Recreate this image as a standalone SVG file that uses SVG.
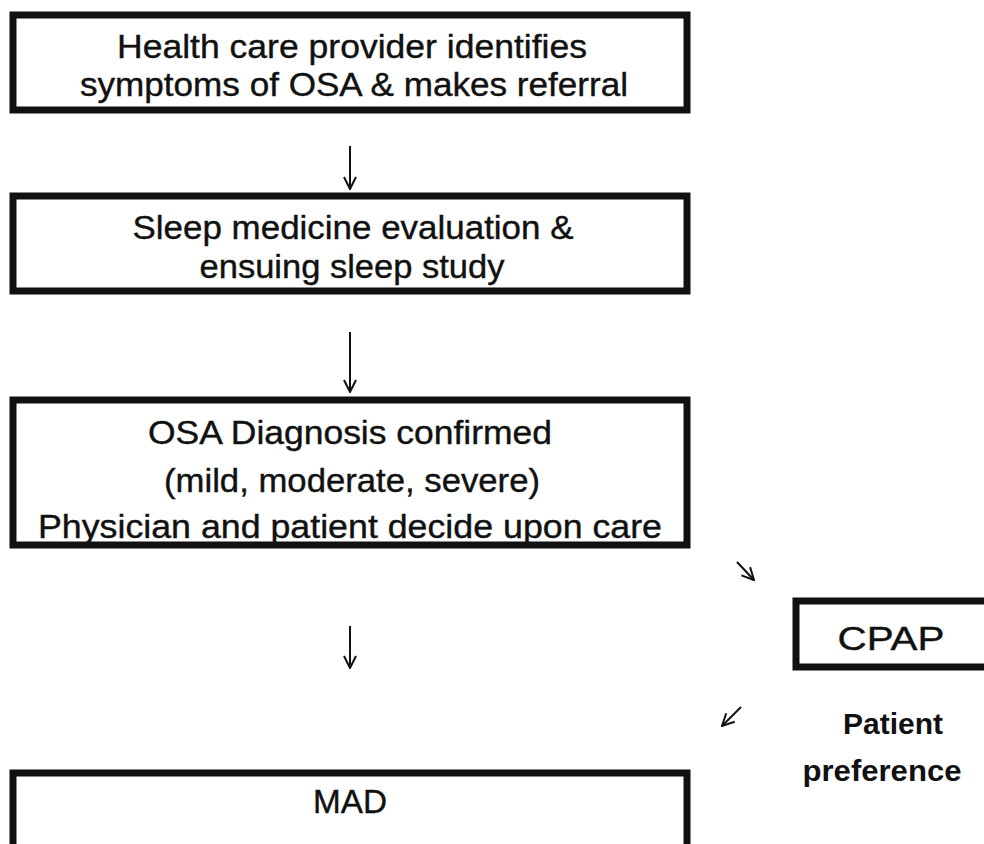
<svg xmlns="http://www.w3.org/2000/svg" width="984" height="844" viewBox="0 0 984 844">
<defs>
<style>
.box{fill:#fff;stroke:#111;stroke-width:7}
.t{font-family:"Liberation Sans",Arial,sans-serif;font-size:34px;fill:#111;text-anchor:middle;stroke:#111;stroke-width:0.4}
.b{font-weight:bold;font-size:29px;stroke-width:0}
.c{stroke:#111;stroke-width:2;fill:none}
</style>
<marker id="ah" viewBox="0 0 14 14" refX="13" refY="7" markerWidth="14" markerHeight="14" markerUnits="userSpaceOnUse" orient="auto">
<path d="M1,1 L13,7 L1,13" fill="none" stroke="#111" stroke-width="2"/>
</marker>
</defs>
<rect width="984" height="844" fill="#fff"/>
<g id="n1">
<rect class="box" x="13" y="15" width="674" height="95"/>
<text class="t" x="352" y="58" textLength="470" lengthAdjust="spacingAndGlyphs">Health care provider identifies</text>
<text class="t" x="354" y="96" textLength="548" lengthAdjust="spacingAndGlyphs">symptoms of OSA &amp; makes referral</text>
</g>
<g id="n2">
<rect class="box" x="13" y="196" width="674" height="95"/>
<text class="t" x="353" y="239" textLength="441" lengthAdjust="spacingAndGlyphs">Sleep medicine evaluation &amp;</text>
<text class="t" x="352" y="278" textLength="305" lengthAdjust="spacingAndGlyphs">ensuing sleep study</text>
</g>
<g id="n3">
<rect class="box" x="13" y="400" width="674" height="145"/>
<text class="t" x="350" y="444" textLength="404" lengthAdjust="spacingAndGlyphs">OSA Diagnosis confirmed</text>
<text class="t" x="352" y="492" textLength="376" lengthAdjust="spacingAndGlyphs">(mild, moderate, severe)</text>
<text class="t" x="350" y="538" textLength="624" lengthAdjust="spacingAndGlyphs">Physician and patient decide upon care</text>
</g>
<g id="n4">
<rect class="box" x="796" y="601" width="200" height="66"/>
<text class="t" x="891" y="650" font-size="37" stroke-width="0" textLength="107" lengthAdjust="spacingAndGlyphs">CPAP</text>
</g>
<g id="n5">
<text class="t b" x="893" y="734" textLength="100" lengthAdjust="spacingAndGlyphs">Patient</text>
<text class="t b" x="882" y="781" textLength="159" lengthAdjust="spacingAndGlyphs">preference</text>
</g>
<g id="n6">
<rect class="box" x="13" y="773" width="674" height="95"/>
<text class="t" x="350" y="813" textLength="74" lengthAdjust="spacingAndGlyphs">MAD</text>
</g>
<g id="connectors">
<line class="c" x1="350" y1="146" x2="350" y2="189" marker-end="url(#ah)"/>
<line class="c" x1="350" y1="332" x2="350" y2="392" marker-end="url(#ah)"/>
<line class="c" x1="350" y1="626" x2="350" y2="668" marker-end="url(#ah)"/>
<line class="c" x1="737" y1="562" x2="754" y2="580" stroke-width="3" marker-end="url(#ah)"/>
<line class="c" x1="741" y1="707" x2="722" y2="726" stroke-width="3" marker-end="url(#ah)"/>
</g>
</svg>
